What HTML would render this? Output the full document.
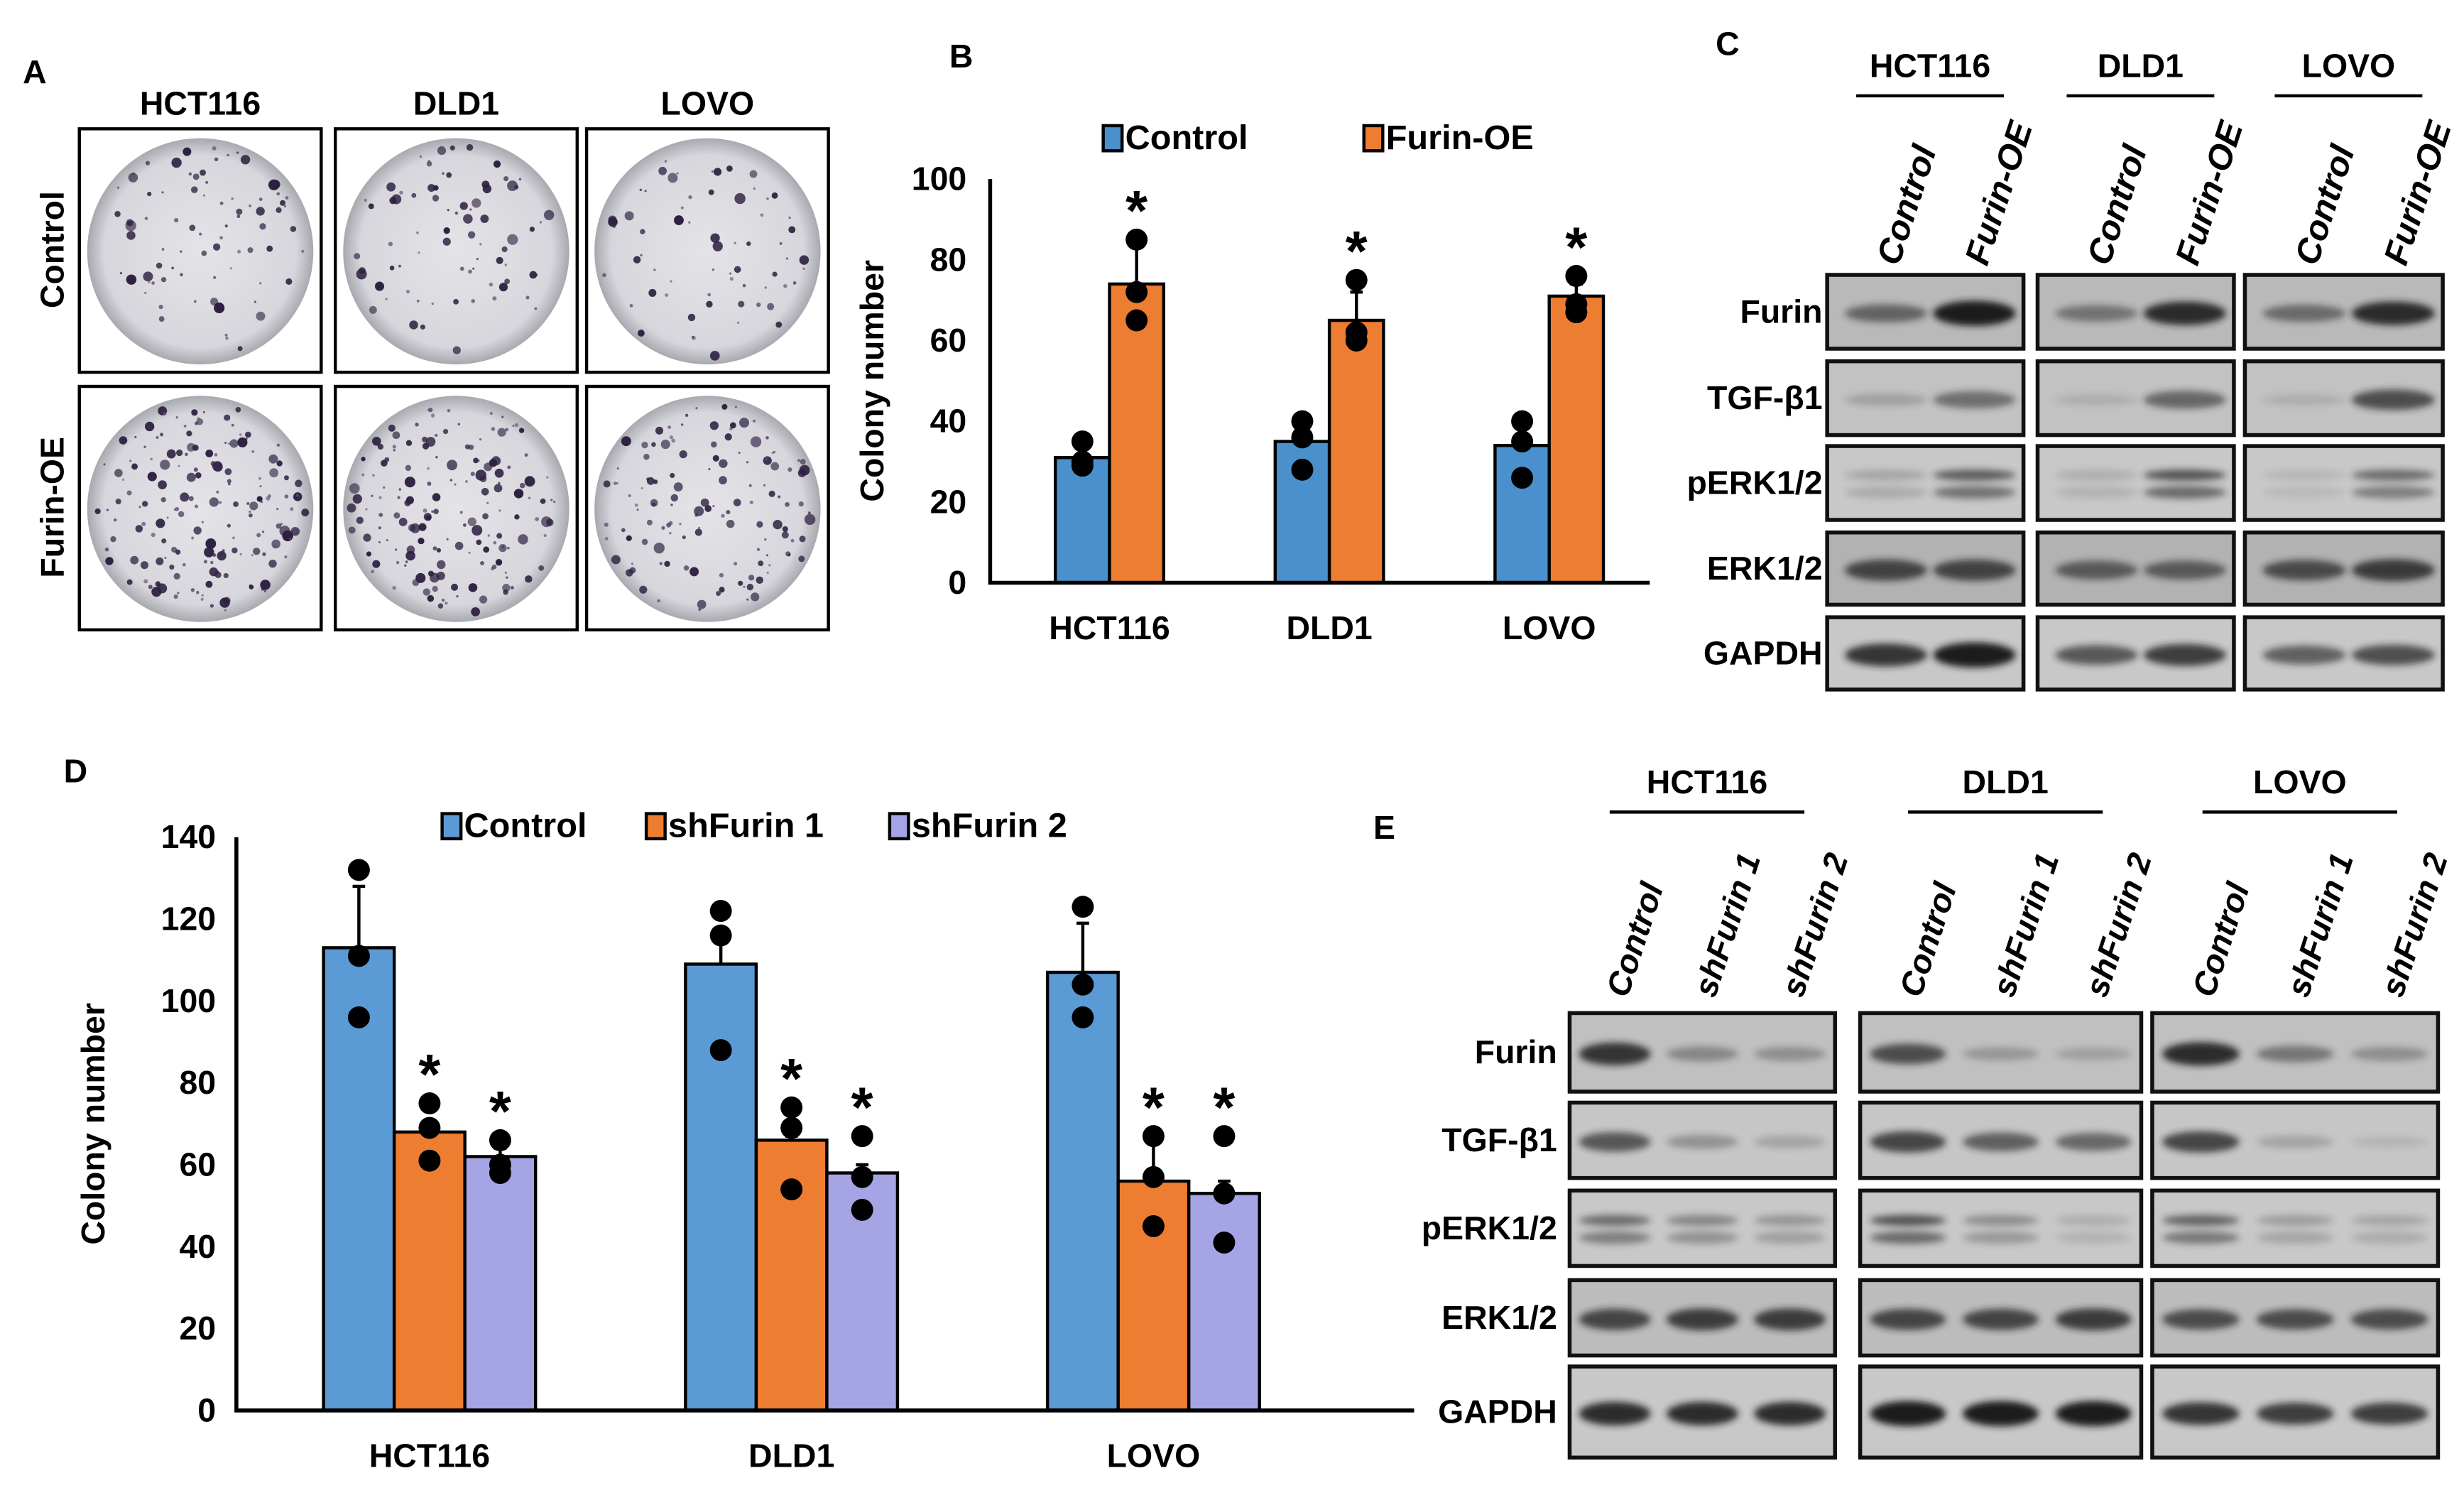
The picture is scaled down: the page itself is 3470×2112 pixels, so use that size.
<!DOCTYPE html>
<html><head><meta charset="utf-8"><style>
html,body{margin:0;padding:0;background:#fff}
svg{display:block}
text{font-family:"Liberation Sans",Arial,sans-serif;font-weight:bold;fill:#000}
</style></head><body>
<svg id="fig" width="3470" height="2112" viewBox="0 0 1568 955" xmlns="http://www.w3.org/2000/svg">
<defs>
<filter id="blur" x="-30%" y="-100%" width="160%" height="300%"><feGaussianBlur stdDeviation="2.2"/></filter>
<radialGradient id="plate" cx="50%" cy="50%" r="50%"><stop offset="0" stop-color="#e4e4e8"/><stop offset="0.85" stop-color="#d6d6dc"/><stop offset="1" stop-color="#a8a8b0"/></radialGradient>
</defs>
<g id="panelA"></g>
<g id="panelB"></g>
<g id="panelC"></g>
<g id="panelD"></g>
<g id="panelE"></g>
</svg>
<script>
// ---------- Chart B data ----------
const bCategories = ["HCT116","DLD1","LOVO"];
const bSeries = ["Control","Furin-OE"];
const bControl = [31,35,34];
const bFurinOE = [74,65,71];
const bControlErr = [3,4,0];
const bFurinOEErr = [10,7,3];
const bControlPts = [[35,30,29],[40,36,28],[40,35,26]];
const bFurinOEPts = [[85,72,65],[75,62,60],[76,69,67]];
const bTicks = [0,20,40,60,80,100];
// ---------- Chart D data ----------
const dCategories = ["HCT116","DLD1","LOVO"];
const dSeries = ["Control","shFurin 1","shFurin 2"];
const dControl = [113,109,107];
const dSh1 = [68,66,56];
const dSh2 = [62,58,53];
const dControlErr = [15,8,12];
const dSh1Err = [1,1,10];
const dSh2Err = [2,2,3];
const dControlPts = [[132,111,96],[122,116,88],[123,104,96]];
const dSh1Pts = [[75,69,61],[74,69,54],[67,57,45]];
const dSh2Pts = [[66,60,58],[67,57,49],[67,53,41]];
const dTicks = [0,20,40,60,80,100,120,140];

const NS="http://www.w3.org/2000/svg";
function mk(parent,tag,attrs,txt){const e=document.createElementNS(NS,tag);for(const k in attrs)e.setAttribute(k,attrs[k]);if(txt!==undefined)e.textContent=txt;parent.appendChild(e);return e;}

// ---------- Panel A ----------
const A=document.getElementById('panelA');
let lbl=mk(A,'text',{x:14,y:53,'font-size':21},'A');


const aCols=["HCT116","DLD1","LOVO"];
const colX=[50,213,373], rowY=[82,246];
aCols.forEach((c,i)=>{const t=mk(A,'text',{x:colX[i]+77,y:73,'font-size':21,'text-anchor':'middle'},c);

});
["Control","Furin-OE"].forEach((r,j)=>{const cy=rowY[j]+77;const t=mk(A,'text',{x:0,y:0,'font-size':21,'text-anchor':'middle',transform:`translate(40,${cy}) rotate(-90)`},r);

});
let seed=7;function rnd(){seed=(seed*16807)%2147483647;return seed/2147483647;}
const density=[[80,75,65],[170,160,130]];
for(let j=0;j<2;j++)for(let i=0;i<3;i++){
 const g=mk(A,'g',{});
 
 
 mk(g,'rect',{x:colX[i],y:rowY[j],width:154,height:155,fill:'#fff',stroke:'#000','stroke-width':2});
 const cx=colX[i]+77,cy=rowY[j]+78;
 mk(g,'circle',{cx,cy,r:72,fill:'url(#plate)'});
 for(let k=0;k<density[j][i];k++){const a=rnd()*6.283,rr=68*Math.sqrt(rnd());const s=rnd();
  mk(g,'circle',{cx:cx+rr*Math.cos(a),cy:cy+rr*Math.sin(a),r:(0.7+s*s*2.8).toFixed(2),fill:s>0.5?'#2e2040':'#5a4a70',opacity:(0.6+0.4*rnd()).toFixed(2)});}
}

// ---------- generic bar chart ----------
function barChart(G,o){
 const y=v=>o.y0-(v/o.ymax)*(o.y0-o.ytop);
 mk(G,'text',{x:o.labX,y:o.labY,'font-size':21},o.letter);
 o.ticks.forEach(t=>{const e=mk(G,'text',{x:o.tickEnd,y:y(t)+7,'font-size':21,'text-anchor':'end'},t);
  
  });
 const yt=mk(G,'text',{x:0,y:0,'font-size':21,'text-anchor':'middle',transform:`translate(${o.ytX},${(o.y0+o.ytop)/2}) rotate(-90)`},'Colony number');
 
 
 const n=o.series.length;
 o.cats.forEach((c,ci)=>{
  const cx=o.x0+ci*o.gap;
  const xl=mk(G,'text',{x:cx,y:o.y0+36,'font-size':21,'text-anchor':'middle'},c);
  
  
  for(let s=0;s<n;s++){
   const bx=cx-n*o.bw/2+s*o.bw, v=o.vals[s][ci];
   const r=mk(G,'rect',{x:bx,y:y(v),width:o.bw,height:o.y0-y(v),fill:o.colors[s],stroke:'#000','stroke-width':2});
   
   
   const ex=bx+o.bw/2, e=o.errs[s][ci];
   if(e>0){const eb=mk(G,'path',{d:`M${ex},${y(v)}V${y(v+e)}M${ex-4},${y(v+e)}H${ex+4}`,stroke:'#000','stroke-width':2,fill:'none'});
    
    }
   o.pts[s][ci].forEach(p=>{const d=mk(G,'circle',{cx:ex,cy:y(p),r:7,fill:'#000'});
    
    });
   if(o.star[s]){const st=mk(G,'text',{x:ex,y:y(Math.max(...o.pts[s][ci],v+e))-6,'font-size':36,'text-anchor':'middle'},'*');
    
    }
  }
 });
 mk(G,'path',{d:`M${o.axX},${o.ytop}V${o.y0}H${o.axEnd}`,stroke:'#000','stroke-width':2.5,fill:'none'});
 o.series.forEach((s,i)=>{const lx=o.legX[i];
  const r=mk(G,'rect',{x:lx,y:o.legY-14,width:12,height:16,fill:o.colors[i],stroke:'#000','stroke-width':2});
  
  
  const t=mk(G,'text',{x:lx+14,y:o.legY+1,'font-size':22},s);
  
  });
}
barChart(document.getElementById('panelB'),{letter:'B',labX:604,labY:43,cats:bCategories,series:bSeries,
 vals:[bControl,bFurinOE],errs:[bControlErr,bFurinOEErr],pts:[bControlPts,bFurinOEPts],star:[false,true],
 colors:['#4a90cc','#ed7d31'],ticks:bTicks,ymax:100,y0:371,ytop:114,axX:630,tickEnd:615,axEnd:1050,ytX:562,
 x0:706,gap:140,bw:34.5,legX:[702,868],legY:94});
barChart(document.getElementById('panelD'),{letter:'D',labX:40,labY:498,cats:dCategories,series:dSeries,
 vals:[dControl,dSh1,dSh2],errs:[dControlErr,dSh1Err,dSh2Err],pts:[dControlPts,dSh1Pts,dSh2Pts],star:[false,true,true],
 colors:['#5b9bd5','#ed7d31','#a5a5e6'],ticks:dTicks,ymax:140,y0:898,ytop:533,axX:150,tickEnd:137,axEnd:900,ytX:66,
 x0:273,gap:230.5,bw:45,legX:[281,411,566],legY:532});

// ---------- Western blots ----------
function blot(G,o){
 mk(G,'text',{x:o.labX,y:o.labY,'font-size':21},o.letter);
 o.blocks.forEach((b,bi)=>{
  const hx=b[0]+(b[1]-b[0])/2+o.headOff;
  const h=mk(G,'text',{x:hx,y:o.headY,'font-size':21,'text-anchor':'middle'},o.cells[bi]);
  
  
  mk(G,'line',{x1:hx-o.ulw/2,x2:hx+o.ulw/2,y1:o.headY+12,y2:o.headY+12,stroke:'#000','stroke-width':2});
  o.lanes.forEach((ln,li)=>{const lx=b[0]+(b[1]-b[0])*o.laneFr[li];
   const t=mk(G,'text',{x:0,y:0,'font-size':o.laneFs,'font-style':'italic',transform:`translate(${lx+8},${o.laneY}) rotate(-72)`},ln);
   
   });
  o.rows.forEach((r,ri)=>{
   const [y1,y2]=o.rowY[ri];
   const g=mk(G,'g',{});
   
   
   mk(g,'rect',{x:b[0],y:y1,width:b[1]-b[0],height:y2-y1,fill:o.bg[ri],stroke:'#111','stroke-width':2.5});
   const cy=(y1+y2)/2;
   o.lanes.forEach((ln,li)=>{const lx=b[0]+(b[1]-b[0])*o.laneFr[li];
    const I=o.intens[ri][bi][li];
    const w=(b[1]-b[0])*o.bandW;
    if(o.doubleBand[ri]){mk(g,'ellipse',{cx:lx,cy:cy-5,rx:w/2,ry:3.5,fill:'#222',opacity:I,filter:'url(#blur)'});
     mk(g,'ellipse',{cx:lx,cy:cy+6,rx:w/2,ry:4,fill:'#222',opacity:I*0.8,filter:'url(#blur)'});}
    else mk(g,'ellipse',{cx:lx,cy:cy+1,rx:w/2,ry:3+I*5,fill:'#1a1a1a',opacity:Math.min(1,I),filter:'url(#blur)'});
   });
  });
 });
 o.rows.forEach((r,ri)=>{const t=mk(G,'text',{x:o.rowLabX,y:(o.rowY[ri][0]+o.rowY[ri][1])/2+7,'font-size':21,'text-anchor':'end'},r);
  
  });
}
blot(document.getElementById('panelC'),{letter:'C',labX:1092,labY:35,cells:["HCT116","DLD1","LOVO"],
 blocks:[[1163,1288],[1297,1422],[1429,1555]],headOff:3,headY:49,ulw:94,lanes:["Control","Furin-OE"],laneFr:[0.3,0.75],laneY:170,laneFs:22,
 rows:["Furin","TGF-β1","pERK1/2","ERK1/2","GAPDH"],rowY:[[175,222],[230,277],[284,331],[339,385],[393,439]],rowLabX:1160,
 bg:['#b9b9b9','#c2c2c2','#c8c8c8','#b2b2b2','#c8c8c8'],bandW:0.42,doubleBand:[false,false,true,false,false],
 intens:[[[0.55,1.0],[0.45,0.9],[0.5,0.9]],[[0.2,0.5],[0.12,0.55],[0.12,0.7]],[[0.2,0.65],[0.15,0.7],[0.1,0.55]],[[0.75,0.75],[0.6,0.6],[0.7,0.8]],[[0.85,1.0],[0.65,0.8],[0.6,0.7]]]});
blot(document.getElementById('panelE'),{letter:'E',labX:874,labY:534,cells:["HCT116","DLD1","LOVO"],
 blocks:[[999,1168],[1184,1363],[1370,1552]],headOff:3,headY:505,ulw:124,lanes:["Control","shFurin 1","shFurin 2"],laneFr:[0.17,0.5,0.83],laneY:636,laneFs:21,
 rows:["Furin","TGF-β1","pERK1/2","ERK1/2","GAPDH"],rowY:[[645,695],[702,750],[758,806],[815,863],[870,928]],rowLabX:991,
 bg:['#c0c0c0','#c6c6c6','#c8c8c8','#bcbcbc','#c8c8c8'],bandW:0.27,doubleBand:[false,false,true,false,false],
 intens:[[[0.85,0.35,0.3],[0.7,0.25,0.2],[0.9,0.45,0.3]],[[0.65,0.3,0.2],[0.75,0.6,0.55],[0.75,0.2,0.1]],[[0.55,0.4,0.3],[0.7,0.35,0.15],[0.6,0.25,0.2]],[[0.75,0.8,0.8],[0.75,0.75,0.8],[0.7,0.7,0.7]],[[0.9,0.9,0.9],[1,1,1],[0.85,0.8,0.8]]]});
</script>
</body></html>
